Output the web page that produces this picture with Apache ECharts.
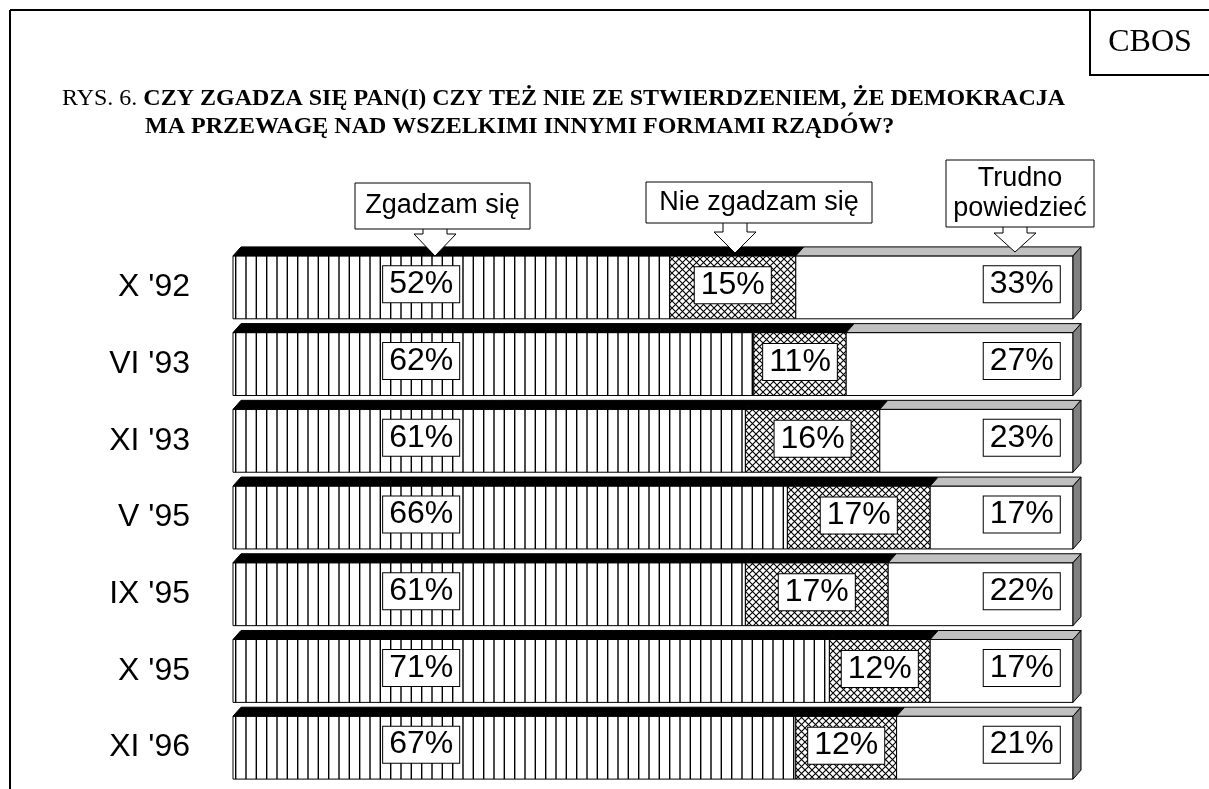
<!DOCTYPE html>
<html>
<head>
<meta charset="utf-8">
<script src="https://cdn.jsdelivr.net/npm/echarts@6/dist/echarts.min.js"></script>
<style>
html, body { margin: 0; padding: 0; background: #fff; }
#chart { width: 1209px; height: 789px; }
</style>
</head>
<body>
<div id="chart"></div>
<script>
var periods = ["X '92", "VI '93", "XI '93", "V '95", "IX '95", "X '95", "XI '96"];
var agree = [52, 62, 61, 66, 61, 71, 67];
var disagree = [15, 11, 16, 17, 17, 12, 12];
var hardToSay = [33, 27, 23, 17, 22, 17, 21];

var SANS = '"Liberation Sans", Arial, sans-serif';
var SERIF = '"Liberation Serif", "Times New Roman", serif';

// hatch fills
function linesPattern() {
    var c = document.createElement('canvas');
    c.width = 31; c.height = 4;
    var g = c.getContext('2d');
    g.fillStyle = '#fff'; g.fillRect(0, 0, 31, 4);
    g.fillStyle = '#000';
    [8.3, 18.7, 29].forEach(function (x) { g.fillRect(x - 0.7, 0, 1.4, 4); });
    return c;
}
function crossPattern() {
    var c = document.createElement('canvas');
    c.width = 7; c.height = 7;
    var g = c.getContext('2d');
    g.fillStyle = '#fff'; g.fillRect(0, 0, 7, 7);
    g.strokeStyle = '#000'; g.lineWidth = 1.1;
    g.beginPath();
    g.moveTo(-1, -1); g.lineTo(8, 8);
    g.moveTo(8, -1); g.lineTo(-1, 8);
    g.stroke();
    return c;
}
var fronts = [
    { image: linesPattern(), repeat: 'repeat' },
    { image: crossPattern(), repeat: 'repeat' },
    '#fff'
];
var tops = ['#000', '#000', '#c0c0c0'];

var rows = periods.map(function (p, i) {
    return [i, agree[i], disagree[i], hardToSay[i]];
});

function boxText(x, y, txt) {
    return {
        type: 'text', x: x, y: y, z2: 20,
        style: {
            text: txt, align: 'center', verticalAlign: 'middle',
            font: '32px ' + SANS, fill: '#000',
            backgroundColor: '#fff', borderColor: '#000', borderWidth: 1,
            padding: [3, 6, 1, 6]
        }
    };
}

function renderItem(params, api) {
    var i = api.value(0);
    var vals = [api.value(1), api.value(2), api.value(3)];
    var band = api.size([0, 1])[1];
    var h = band * 0.82;
    var dx = 8, dy = 9;
    var yc = api.coord([0, i])[1];
    var yt = yc - h / 2, yb = yc + h / 2;
    var xs = [api.coord([0, i])[0]];
    var acc = 0;
    vals.forEach(function (v) { acc += v; xs.push(api.coord([acc, i])[0]); });
    var kids = [];
    for (var k = 0; k < 3; k++) {
        var xa = xs[k], xb = xs[k + 1];
        kids.push({
            type: 'rect', shape: { x: xa, y: yt, width: xb - xa, height: yb - yt },
            style: { fill: fronts[k], stroke: '#000', lineWidth: 1 }
        });
        kids.push({
            type: 'polygon',
            shape: { points: [[xa, yt], [xa + dx, yt - dy], [xb + dx, yt - dy], [xb, yt]] },
            style: { fill: tops[k], stroke: '#000', lineWidth: 1 }
        });
    }
    var xe = xs[3];
    kids.push({
        type: 'polygon',
        shape: { points: [[xe, yt], [xe + dx, yt - dy], [xe + dx, yb - dy], [xe, yb]] },
        style: { fill: '#808080', stroke: '#000', lineWidth: 1 }
    });
    var ly = yc - 3;
    kids.push(boxText(api.coord([22.4, i])[0], ly, vals[0] + '%'));
    kids.push(boxText((xs[1] + xs[2]) / 2, ly + 1, vals[1] + '%'));
    kids.push(boxText(api.coord([93.9, i])[0], ly, vals[2] + '%'));
    return { type: 'group', children: kids };
}

function callout(box, lines, tipX, tipY, headY) {
    var sw = 12, hw = 21;
    var by = box[1] + box[3];
    var els = [{
        type: 'polygon', z: 50,
        shape: { points: [[tipX - sw, by - 1], [tipX + sw, by - 1], [tipX + sw, headY], [tipX + hw, headY],
            [tipX, tipY], [tipX - hw, headY], [tipX - sw, headY]] },
        style: { fill: '#fff', stroke: '#000', lineWidth: 1 }
    }, {
        type: 'rect', z: 51,
        shape: { x: box[0], y: box[1], width: box[2], height: box[3] },
        style: { fill: '#fff', stroke: '#000', lineWidth: 1 }
    }];
    var lh = 30;
    var y0 = box[1] + box[3] / 2 - (lines.length - 1) * lh / 2;
    lines.forEach(function (t, j) {
        els.push({
            type: 'text', z: 52, x: box[0] + box[2] / 2, y: y0 + j * lh,
            style: { text: t, font: '27px ' + SANS, fill: '#000', align: 'center', verticalAlign: 'middle' }
        });
    });
    return els;
}

var graphics = [
    { type: 'line', shape: { x1: 10, y1: 10, x2: 1209, y2: 10 }, style: { stroke: '#000', lineWidth: 2 } },
    { type: 'line', shape: { x1: 10, y1: 10, x2: 10, y2: 789 }, style: { stroke: '#000', lineWidth: 2 } },
    { type: 'polyline', shape: { points: [[1090, 10], [1090, 75], [1209, 75]] }, style: { stroke: '#000', lineWidth: 2, fill: null } },
    { type: 'text', x: 1150, y: 43, style: { text: 'CBOS', font: '32px ' + SERIF, fill: '#000', align: 'center', verticalAlign: 'middle' } },
    {
        type: 'text', x: 62, y: 99,
        style: {
            text: '{r|RYS. 6. }{b|CZY ZGADZA SIĘ PAN(I) CZY TEŻ NIE ZE STWIERDZENIEM, ŻE DEMOKRACJA}',
            verticalAlign: 'middle',
            rich: {
                r: { font: '24px ' + SERIF, fill: '#000' },
                b: { font: 'bold 24px ' + SERIF, fill: '#000' }
            }
        }
    },
    {
        type: 'text', x: 145, y: 127,
        style: { text: 'MA PRZEWAGĘ NAD WSZELKIMI INNYMI FORMAMI RZĄDÓW?', font: 'bold 24px ' + SERIF, fill: '#000', verticalAlign: 'middle' }
    }
]
    .concat(callout([355, 183, 175, 46], ['Zgadzam się'], 435, 256, 234))
    .concat(callout([646, 182, 226, 41], ['Nie zgadzam się'], 735, 253, 232))
    .concat(callout([946, 160, 148, 67], ['Trudno', 'powiedzieć'], 1015, 252, 233));

var chart = echarts.init(document.getElementById('chart'));
chart.setOption({
    animation: false,
    backgroundColor: '#fff',
    grid: { left: 233, right: 136, top: 249, bottom: 3 },
    xAxis: { type: 'value', min: 0, max: 100, show: false },
    yAxis: {
        type: 'category', data: periods, inverse: true,
        axisLine: { show: false }, axisTick: { show: false }, splitLine: { show: false },
        axisLabel: { color: '#000', fontFamily: SANS, fontSize: 32, margin: 43 }
    },
    series: [{
        type: 'custom',
        renderItem: renderItem,
        encode: { y: 0, x: [1, 2, 3] },
        data: rows
    }],
    graphic: graphics
});
</script>
</body>
</html>
